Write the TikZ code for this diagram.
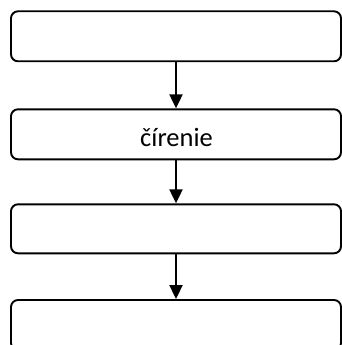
\documentclass[tikz,border=0pt]{standalone}
\usepackage{fontspec}
\setmainfont{Carlito}
\usetikzlibrary{arrows.meta}
\begin{document}
\begin{tikzpicture}[x=1pt,y=-1pt,
  stepbox/.style={draw, line width=1.9pt, rounded corners=7pt,
    minimum width=330pt, minimum height=50pt, inner sep=0pt},
  flow/.style={-{Triangle[length=14pt,width=13pt]}, line width=2pt},
  lbl/.style={anchor=base, inner sep=0pt, font=\fontsize{26.5}{30}\selectfont}]
\useasboundingbox (0,0) rectangle (342,345);
\clip (0,0) rectangle (342,345);
% four process steps, the last one running off the bottom edge
\node[stepbox] (b1) at (176,36.3) {};
\node[stepbox] (b2) at (176,134.3) {};
\node[stepbox, minimum height=49pt] (b3) at (176,228.8) {};
\node[stepbox] (b4) at (176,325) {};
\node[lbl] (t2) at (176.5,146.7) {čírenie};
% connectors
\draw[flow] (b1.south) -- (b2.north);
\draw[flow] (b2.south) -- (b3.north);
\draw[flow] (b3.south) -- (b4.north);
\end{tikzpicture}
\end{document}
